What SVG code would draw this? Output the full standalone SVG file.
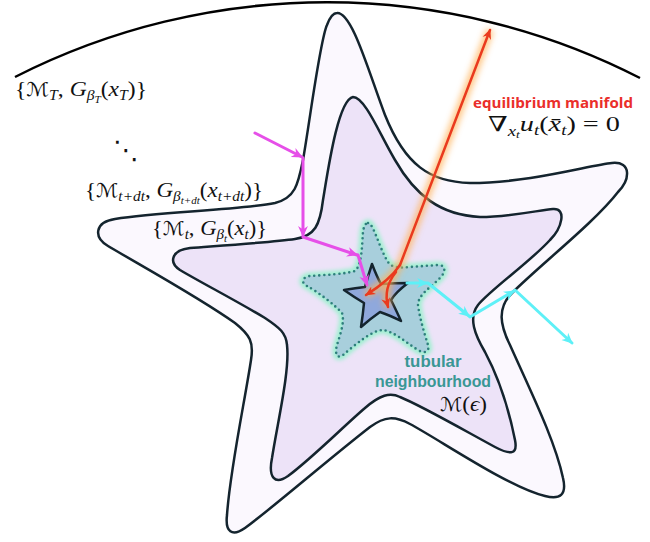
<svg xmlns="http://www.w3.org/2000/svg" width="650" height="542" viewBox="0 0 650 542">
<style>
.star{stroke:#14242e;stroke-width:2.5;stroke-linejoin:round}
.m{font-family:"Liberation Serif","DejaVu Serif",serif;font-size:21px;fill:#111}
.i{font-style:italic}
.cal{font-family:"DejaVu Sans",sans-serif;font-size:19px}
.s1{font-size:14px}
.s2{font-size:10px}
.lab{font-family:"Open Sans","Liberation Sans",sans-serif;font-weight:700}
.lab2{font-family:"Liberation Sans",Arial,sans-serif;font-weight:700}
.conn{fill:none;stroke-width:3;stroke-linecap:round}
</style>
<defs>
<filter id="blur" x="-50%" y="-50%" width="200%" height="200%"><feGaussianBlur stdDeviation="3"/></filter>
<filter id="blur2" x="-20%" y="-20%" width="140%" height="140%"><feGaussianBlur stdDeviation="2"/></filter>
<marker id="ah-m" viewBox="0 0 10 10" refX="9" refY="5" markerWidth="11" markerHeight="11" markerUnits="userSpaceOnUse" orient="auto"><path d="M0,0.5 L10,5 L0,9.5 L3,5 Z" fill="#e64fe8"/></marker>
<marker id="ah-c" viewBox="0 0 10 10" refX="9" refY="5" markerWidth="11" markerHeight="11" markerUnits="userSpaceOnUse" orient="auto"><path d="M0,0.5 L10,5 L0,9.5 L3,5 Z" fill="#5ef0f7"/></marker>
<marker id="ah-r" viewBox="0 0 10 10" refX="9" refY="5" markerWidth="10" markerHeight="10" markerUnits="userSpaceOnUse" orient="auto"><path d="M0,0.5 L10,5 L0,9.5 L3,5 Z" fill="#ea3a1e"/></marker>
</defs>
<rect width="650" height="542" fill="#ffffff"/>

<g id="boundary">
<path d="M15,77 A687,687 0 0 1 640,78" fill="none" stroke="#000" stroke-width="2.5"/>
</g>

<g id="star-outer">
<path class="star" fill="#fbf8fe" d="M337,13 C352,12 368,70 385,115 C405,165 430,182 470,183 C530,183 590,165 612,163 C632,161 630,180 618,192 C595,222 540,265 512,293 C497,308 500,325 510,345 C530,390 555,440 563,478 C567,495 560,500 545,496 C510,488 440,440 410,424 C395,416 385,416 370,427 C330,458 270,510 245,528 C232,537 225,532 227,515 C230,470 245,400 251,360 C254,342 250,335 235,323 C200,298 140,265 108,246 C93,237 95,222 115,219 C160,212 240,210 275,203 C295,198 298,185 303,160 C310,120 320,40 327,25 C330,17 333,13 337,13 Z"/>
</g>

<g id="star-middle">
<path class="star" fill="#ede3f8" d="M353,97 C365,97 380,135 395,160 C415,195 440,215 480,217 C510,217 540,210 553,209 C567,208 562,228 550,240 C530,262 490,290 478,305 C468,318 475,335 485,352 C500,380 510,415 515,440 C518,455 510,455 495,447 C460,428 420,405 400,397 C390,392 380,395 365,408 C345,425 310,460 288,476 C275,485 268,478 272,458 C278,420 290,370 287,345 C286,333 280,328 265,318 C235,300 200,282 180,270 C168,262 172,250 190,248 C230,245 275,242 295,239 C315,236 320,225 323,200 C328,170 338,100 353,97 Z"/>
</g>

<g id="tubular">
<path fill="none" stroke="#9cf0cf" stroke-width="7" filter="url(#blur2)" d="M368,223 C373,222 380,250 388,262 C392,268 400,268 410,267 L438,265 C446,265 446,272 440,278 C430,288 418,295 418,305 C420,320 425,335 428,345 C430,352 424,354 418,350 C405,342 395,332 383,330 C372,330 355,345 343,355 C336,360 335,352 337,345 C340,335 345,322 342,313 C335,305 318,292 307,286 C300,282 303,277 310,276 C325,275 345,274 355,271 C362,265 362,245 363,232 C364,225 366,223 368,223 Z"/>
<path fill="#a8cfdc" stroke="#2e7f7c" stroke-width="2.6" stroke-dasharray="0 5" stroke-linecap="round" d="M368,223 C373,222 380,250 388,262 C392,268 400,268 410,267 L438,265 C446,265 446,272 440,278 C430,288 418,295 418,305 C420,320 425,335 428,345 C430,352 424,354 418,350 C405,342 395,332 383,330 C372,330 355,345 343,355 C336,360 335,352 337,345 C340,335 345,322 342,313 C335,305 318,292 307,286 C300,282 303,277 310,276 C325,275 345,274 355,271 C362,265 362,245 363,232 C364,225 366,223 368,223 Z"/>
</g>

<g id="star-inner">
<path class="star" fill="#8fa8dc" d="M372,264 Q377,277 381,284 Q395,283 408,283 Q396,292 391,300 Q397,312 401,321 Q389,315 380,312 Q370,319 361,327 Q363,314 364,303 Q354,297 344,290 Q356,288 365,287 Q368,276 372,264 Z"/>
</g>

<g id="connectors">
<g id="magenta-path" stroke="#e64fe8" class="conn">
<line x1="255" y1="133" x2="302" y2="157" marker-end="url(#ah-m)"/>
<line x1="303" y1="158" x2="303" y2="236" marker-end="url(#ah-m)"/>
<line x1="303" y1="237" x2="357" y2="255" marker-end="url(#ah-m)"/>
<line x1="358" y1="255" x2="367" y2="285" marker-end="url(#ah-m)"/>
</g>
<g id="cyan-path" stroke="#5ef0f7" class="conn">
<line x1="407" y1="283" x2="427" y2="283" marker-end="url(#ah-c)"/>
<line x1="428" y1="283" x2="469" y2="316" marker-end="url(#ah-c)"/>
<line x1="470" y1="317" x2="514" y2="291" marker-end="url(#ah-c)"/>
<line x1="515" y1="290" x2="572" y2="343" marker-end="url(#ah-c)"/>
</g>
<g id="equilibrium-path">
<g stroke="#ffb35a" stroke-width="8" fill="none" opacity="0.75" filter="url(#blur)">
<path d="M400,265 L490,30"/>
<path d="M400,265 Q390,280 366,295"/>
<path d="M396,272 Q383,288 388,307"/>
</g>
<g stroke="#ea3a1e" stroke-width="2.5" fill="none" stroke-linecap="round">
<path d="M400,265 L490,30" marker-end="url(#ah-r)"/>
<path d="M400,265 Q390,280 366,295" marker-end="url(#ah-r)"/>
<path d="M396,272 Q383,288 388,307" marker-end="url(#ah-r)"/>
</g>
</g>
</g>

<g id="labels">
<text class="m" x="15" y="96" textLength="132" lengthAdjust="spacingAndGlyphs">{<tspan class="cal">ℳ</tspan><tspan class="i s1" dy="4">T</tspan><tspan dy="-4">, </tspan><tspan class="i">G</tspan><tspan class="i s1" dy="4">β</tspan><tspan class="i s2" dy="3">T</tspan><tspan dy="-7">(</tspan><tspan class="i">x</tspan><tspan class="i s1" dy="4">T</tspan><tspan dy="-4">)}</tspan></text>
<text x="113" y="159" font-family="DejaVu Sans,sans-serif" font-size="26" fill="#111">⋱</text>
<text class="m" x="85" y="197" textLength="178" lengthAdjust="spacingAndGlyphs">{<tspan class="cal">ℳ</tspan><tspan class="i s1" dy="4">t+dt</tspan><tspan dy="-4">, </tspan><tspan class="i">G</tspan><tspan class="i s1" dy="4">β</tspan><tspan class="i s2" dy="3">t+dt</tspan><tspan dy="-7">(</tspan><tspan class="i">x</tspan><tspan class="i s1" dy="4">t+dt</tspan><tspan dy="-4">)}</tspan></text>
<text class="m" x="152" y="235" textLength="115" lengthAdjust="spacingAndGlyphs">{<tspan class="cal">ℳ</tspan><tspan class="i s1" dy="4">t</tspan><tspan dy="-4">, </tspan><tspan class="i">G</tspan><tspan class="i s1" dy="4">β</tspan><tspan class="i s2" dy="3">t</tspan><tspan dy="-7">(</tspan><tspan class="i">x</tspan><tspan class="i s1" dy="4">t</tspan><tspan dy="-4">)}</tspan></text>
<text class="lab" x="473" y="108" font-size="14.5" fill="#ea2e2a" textLength="160" lengthAdjust="spacingAndGlyphs">equilibrium manifold</text>
<text class="m" x="488" y="131" font-size="23" textLength="132" lengthAdjust="spacingAndGlyphs">∇<tspan class="i s1" dy="5">x</tspan><tspan class="i s2" dy="2">t</tspan><tspan class="i" dy="-7">u</tspan><tspan class="i s1" dy="4">t</tspan><tspan dy="-4">(</tspan><tspan class="i">x̄</tspan><tspan class="i s1" dy="4">t</tspan><tspan dy="-4">) = 0</tspan></text>
<text class="lab2" x="433" y="367" font-size="16" fill="#3a9795" text-anchor="middle" textLength="57" lengthAdjust="spacingAndGlyphs">tubular</text>
<text class="lab2" x="433" y="387" font-size="16" fill="#3a9795" text-anchor="middle" textLength="116" lengthAdjust="spacingAndGlyphs">neighbourhood</text>
<text class="m" x="440" y="411" font-size="20" textLength="47" lengthAdjust="spacingAndGlyphs"><tspan class="cal" font-size="18">ℳ</tspan>(<tspan class="i">ϵ</tspan>)</text>
</g>
</svg>
